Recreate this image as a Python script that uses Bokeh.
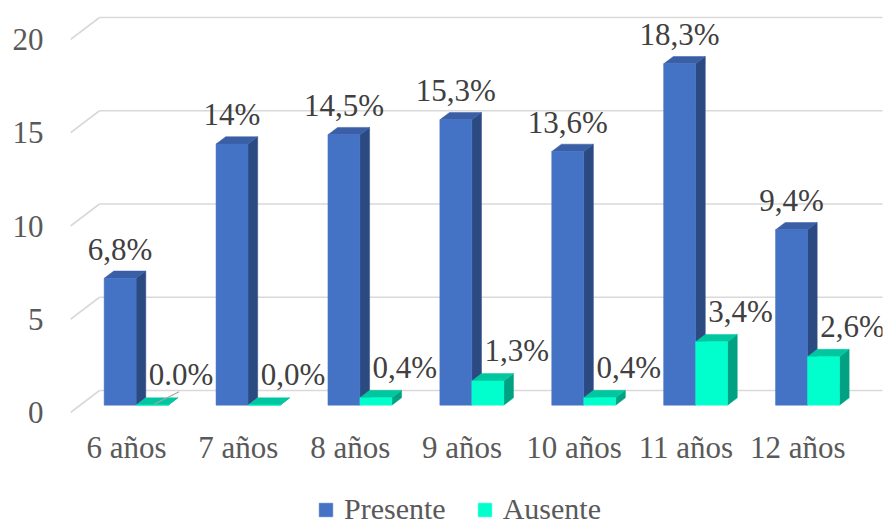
from bokeh.plotting import figure
from bokeh.models import (ColumnDataSource, FixedTicker, Legend, LegendItem, Range1d)
from bokeh.embed import file_html
from bokeh.resources import INLINE
from bokeh.core.properties import value

# ---------------- data ----------------
categories = ["6 años", "7 años", "8 años", "9 años", "10 años", "11 años", "12 años"]
presente = [6.8, 14.0, 14.5, 15.3, 13.6, 18.3, 9.4]
ausente = [0.0, 0.0, 0.4, 1.3, 0.4, 3.4, 2.6]
presente_labels = ["6,8%", "14%", "14,5%", "15,3%", "13,6%", "18,3%", "9,4%"]
ausente_labels = ["0.0%", "0,0%", "0,4%", "1,3%", "0,4%", "3,4%", "2,6%"]
y_ticks = [0, 5, 10, 15, 20]

# ---------------- style / geometry ----------------
FONT = "Liberation Serif"
W, H = 885, 526
BL, BR, BT, BB = 70, 3, 10, 0
FLOOR_PX = 412            # pixel row of the front floor edge (value 0)
frame_w = W - BL - BR
PX_PER_CAT = 111.9
PX_PER_UNIT = 18.65
x_start = -0.5
x_end = x_start + frame_w / PX_PER_CAT
y_start = -(H - BB - FLOOR_PX) / PX_PER_UNIT
y_end = (FLOOR_PX - BT) / PX_PER_UNIT
DX = 29 / PX_PER_CAT      # full floor depth (x)
DY = 22 / PX_PER_UNIT     # full floor depth (y)
dx, dy = DX / 3, DY / 3   # bar depth
BASE = dy                 # bars sit 1/3 into the floor
BAR_W = 1 / 3.5           # gap width 150 %

P_FRONT, P_TOP, P_SIDE = "#4472C4", "#3A5FA6", "#2C4A82"
A_FRONT, A_TOP, A_SIDE = "#00FFCC", "#00C79F", "#00A283"
GRID = "#D9D9D9"
AX_TXT = "#595959"
LBL_TXT = "#404040"

p = figure(width=W, height=H,
           x_range=Range1d(x_start, x_end), y_range=Range1d(y_start, y_end),
           output_backend="svg", toolbar_location=None,
           min_border_left=BL, min_border_right=BR,
           min_border_top=BT, min_border_bottom=BB)
p.outline_line_color = None
p.xgrid.visible = False
p.ygrid.visible = False

# ---------------- 3D gridlines (side diagonal + back wall) ----------------
gx0, gy0, gx1, gy1 = [], [], [], []
for t in y_ticks:
    gx0 += [x_start, x_start + DX]
    gy0 += [t, t + DY]
    gx1 += [x_start + DX, x_end + 1]
    gy1 += [t + DY, t + DY]
p.segment(gx0, gy0, gx1, gy1, line_color=GRID, line_width=1.6)


def bars(vals, x_shift, front, top, side):
    xs0 = [i + dx + x_shift for i in range(len(vals))]
    tops = [BASE + v for v in vals]
    side_xs, side_ys, top_xs, top_ys = [], [], [], []
    for x0, t in zip(xs0, tops):
        x1 = x0 + BAR_W
        side_xs.append([x1, x1 + dx, x1 + dx, x1])
        side_ys.append([BASE, BASE + dy, t + dy, t])
        top_xs.append([x0, x1, x1 + dx, x0 + dx])
        top_ys.append([t, t, t + dy, t + dy])
    p.patches(side_xs, side_ys, fill_color=side, line_color=side, line_width=0.5)
    p.patches(top_xs, top_ys, fill_color=top, line_color=top, line_width=0.5)
    src = ColumnDataSource(dict(left=xs0, right=[x + BAR_W for x in xs0],
                                bottom=[BASE] * len(vals), top=tops))
    r = p.quad(left="left", right="right", bottom="bottom", top="top", source=src,
               fill_color=front, line_color=front, line_width=0.5)
    return r, xs0, tops


r_p, xp, tp = bars(presente, -BAR_W, P_FRONT, P_TOP, P_SIDE)
r_a, xa, ta = bars(ausente, 0.0, A_FRONT, A_TOP, A_SIDE)

# ---------------- data labels ----------------
p.text(x=[x + BAR_W / 2 for x in xp],
       y=[t + dy + 22 / PX_PER_UNIT for t in tp], text=presente_labels,
       text_font=value(FONT), text_font_size="31px", text_color=LBL_TXT,
       text_align="center", text_baseline="middle")
p.text(x=[x + BAR_W / 2 + 29 / PX_PER_CAT for x in xa],
       y=[t + dy + 23 / PX_PER_UNIT for t in ta], text=ausente_labels,
       text_font=value(FONT), text_font_size="31px", text_color=LBL_TXT,
       text_align="center", text_baseline="middle")

# leader line for the first (zero) label
lx0 = xa[0] + BAR_W / 2 + 2 / PX_PER_CAT
ly0 = BASE + 1 / PX_PER_UNIT
lx1 = xa[0] + BAR_W / 2 + 27 / PX_PER_CAT
ly1 = ta[0] + dy + 6 / PX_PER_UNIT
p.segment([lx0], [ly0], [lx1], [ly1], line_color="#A6A6A6", line_width=1.2)

# ---------------- axes ----------------
p.yaxis.ticker = FixedTicker(ticks=y_ticks)
p.yaxis.axis_line_color = None
p.yaxis.major_tick_line_color = None
p.yaxis.minor_tick_line_color = None
p.yaxis.major_tick_out = 0
p.yaxis.major_label_standoff = 27
p.yaxis.major_label_text_font = FONT
p.yaxis.major_label_text_font_size = "31px"
p.yaxis.major_label_text_color = AX_TXT

p.xaxis.fixed_location = 0
p.xaxis.ticker = FixedTicker(ticks=list(range(len(categories))))
p.xaxis.major_label_overrides = {i: c for i, c in enumerate(categories)}
p.xaxis.axis_line_color = None
p.xaxis.major_tick_line_color = None
p.xaxis.minor_tick_line_color = None
p.xaxis.major_tick_out = 0
p.xaxis.major_label_standoff = 17
p.xaxis.major_label_text_font = FONT
p.xaxis.major_label_text_font_size = "31px"
p.xaxis.major_label_text_color = AX_TXT

# ---------------- legend ----------------
legend = Legend(items=[LegendItem(label="Presente", renderers=[r_p]),
                       LegendItem(label="Ausente", renderers=[r_a])],
                orientation="horizontal", location=(247, 0),
                label_text_font=FONT, label_text_font_size="30px",
                label_text_color=AX_TXT, glyph_width=17, glyph_height=17,
                label_standoff=10, spacing=30, padding=0, margin=0,
                border_line_color=None, background_fill_alpha=0)
p.add_layout(legend)

open("out.html", "w").write(file_html(p, INLINE))
